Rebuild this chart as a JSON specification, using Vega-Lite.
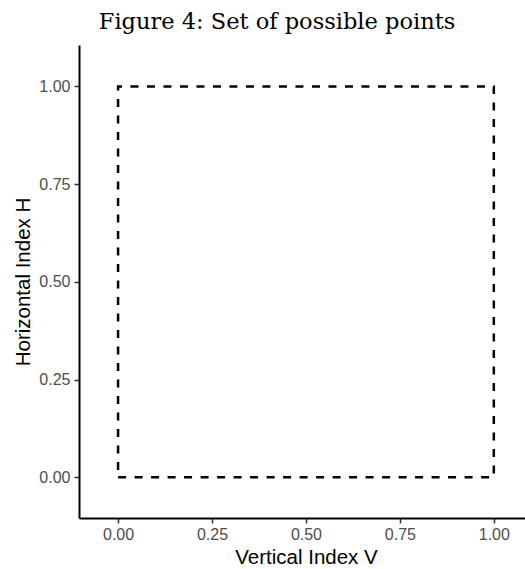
{
  "$schema": "https://vega.github.io/schema/vega-lite/v6.json",
  "width": 446,
  "height": 473,
  "autosize": {"type": "none"},
  "padding": {"left": 79, "top": 45, "right": 0, "bottom": 51},
  "background": "white",
  "title": {
    "text": "Figure 4: Set of possible points",
    "font": "DejaVu Serif",
    "fontSize": 22.5,
    "fontWeight": "normal",
    "color": "black",
    "anchor": "middle",
    "frame": "group",
    "baseline": "alphabetic",
    "offset": -6,
    "dx": -25
  },
  "config": {
    "view": {"stroke": null},
    "axis": {
      "grid": false,
      "domainColor": "black",
      "domainWidth": 2,
      "tickColor": "#333333",
      "tickWidth": 1.5,
      "tickSize": 5,
      "labelFont": "Liberation Sans",
      "labelFontSize": 16,
      "labelColor": "#4D4D4D",
      "titleFont": "Liberation Sans",
      "titleFontSize": 20.5,
      "titleFontWeight": "normal",
      "titleColor": "black"
    }
  },
  "data": {
    "values": [
      {"v": 0, "h": 0, "o": 1},
      {"v": 1, "h": 0, "o": 2},
      {"v": 1, "h": 1, "o": 3},
      {"v": 0, "h": 1, "o": 4},
      {"v": 0, "h": 0, "o": 5}
    ]
  },
  "mark": {"type": "line", "color": "black", "strokeWidth": 2.5, "strokeDash": [8, 8.5], "clip": false},
  "encoding": {
    "x": {
      "field": "v", "type": "quantitative",
      "scale": {"domain": [-0.104, 1.083], "nice": false, "zero": false},
      "axis": {"title": "Vertical Index V", "values": [0, 0.25, 0.5, 0.75, 1], "format": ".2f", "labelPadding": 3, "titleX": 227, "titleY": 45, "titleBaseline": "alphabetic", "titleAlign": "center"}
    },
    "y": {
      "field": "h", "type": "quantitative",
      "scale": {"domain": [-0.104, 1.106], "nice": false, "zero": false},
      "axis": {"title": "Horizontal Index H", "values": [0, 0.25, 0.5, 0.75, 1], "format": ".2f", "labelPadding": 4, "titleX": -50, "titleY": 236.5, "titleBaseline": "alphabetic", "titleAlign": "center", "titleAngle": -90}
    },
    "order": {"field": "o", "type": "quantitative"}
  }
}
